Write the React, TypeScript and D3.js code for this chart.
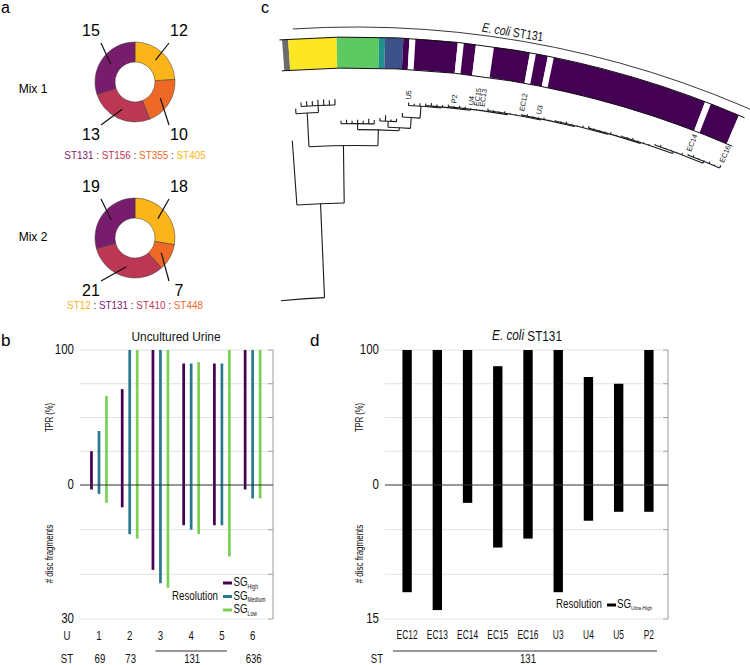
import * as d3 from "d3";
import type { ReactNode } from "react";

const SANS = "'Liberation Sans',Arial,sans-serif";

// ---------- panel a: strain mixes ----------
const MIX1_STS = ["ST405", "ST355", "ST156", "ST131"];
const MIX1_VALUES = [12, 10, 13, 15];
const MIX1_LEGEND = ["ST131", "ST156", "ST355", "ST405"];
const MIX2_STS = ["ST12", "ST448", "ST410", "ST131"];
const MIX2_VALUES = [18, 7, 21, 19];
const MIX2_LEGEND = ["ST12", "ST131", "ST410", "ST448"];
const ST_COLORS: Record<string, string> = {
  ST131: "#781c6d", ST156: "#bc3754", ST410: "#bc3754",
  ST355: "#ed6925", ST448: "#ed6925", ST405: "#fbb41a", ST12: "#fbb41a",
};

// ---------- panel b: uncultured urine ----------
const URINE_SAMPLES = ["1", "2", "3", "4", "5", "6"];
const URINE_ST = ["69", "73", "131", "131", "131", "636"];
const RES_LEVELS = ["High", "Medium", "Low"];
const RES_COLORS = ["#440154", "#2a788e", "#7ad151"];
const TPR_HIGH = [25, 71, 100, 90, 90, 100];
const TPR_MEDIUM = [40, 100, 100, 90, 90, 100];
const TPR_LOW = [66, 100, 100, 91, 100, 100];
const FRAG_HIGH = [1, 5, 19, 9, 9, 1];
const FRAG_MEDIUM = [2, 11, 22, 10, 9, 3];
const FRAG_LOW = [4, 12, 23, 11, 16, 3];

// ---------- panel d: E. coli ST131 isolates ----------
const ISOLATES = ["EC12", "EC13", "EC14", "EC15", "EC16", "U3", "U4", "U5", "P2"];
const ISOLATE_TPR = [100, 100, 100, 88, 100, 100, 80, 75, 100];
const ISOLATE_FRAG = [12, 14, 2, 7, 6, 12, 4, 3, 3];

// ---------- panel c: tree (branch lengths) ----------
const CLADE_COLORS: Record<string, string> = {
  out: "#6b6b6b", yellow: "#fde725", green: "#5ec962", teal: "#21918c", blue: "#3b528b", purple: "#440154",
};
const INTERNAL_LEN = { A: 95, B: 58, C: 34, C2: 7, D: 16, G: 6, E: 3, F: 6, H: 11 };
const OUTGROUP_TIP = 65;
const YELLOW_TIPS = [5, 4, 5, 5, 6, 6, 5, 6];
const GREEN_TIPS = [3, 4, 3, 4, 3, 5, 4];
const TEAL_BLUE_TIPS = [3, 6, 2, 3];
const TEAL_BLUE_CLADES = ["teal", "blue", "blue", "blue"];
const PURPLE_BASAL_TIP = 4;
const PURPLE_RUNG_STEPS = [12, 1, 1, 1, 1, 1, 1, 1, 2, 2];
const PURPLE_RUNG_TIPS = [
  [3, 2, 3], [2, 3, 2, 2], [2, 1, 2, 2, 1, 1, 1], [2, 1, 1, 2, 1, 1], [1, 2, 1, 1, 2, 1],
  [1, 1, 2, 1, 1, 2], [2, 1, 1, 1, 2, 1], [1, 1, 2, 1, 1, 1], [1, 2, 1, 1, 1, 2], [1, 2, 1, 1, 2, 1, 3],
];
const TIP_NAMES: Record<number, string> = {
  21: "U5", 29: "P2", 32: "U4", 33: "EC15", 34: "EC13", 41: "EC12", 44: "U3", 71: "EC14", 77: "EC16",
};

interface TNode { len: number; clade?: string; children?: TNode[] }

const tips = (lens: number[], clade: string): TNode[] => lens.map((len) => ({ len, clade }));

function buildLadder(k: number): TNode {
  const kids = tips(PURPLE_RUNG_TIPS[k], "purple");
  if (k + 1 < PURPLE_RUNG_STEPS.length) kids.push(buildLadder(k + 1));
  return { len: PURPLE_RUNG_STEPS[k], children: kids };
}

const TREE: TNode = {
  len: 0,
  children: [{
    len: INTERNAL_LEN.A,
    children: [
      { len: OUTGROUP_TIP, clade: "out" },
      {
        len: INTERNAL_LEN.B,
        children: [
          {
            len: INTERNAL_LEN.C,
            children: [
              { len: YELLOW_TIPS[0], clade: "yellow" },
              { len: INTERNAL_LEN.C2, children: tips(YELLOW_TIPS.slice(1), "yellow") },
            ],
          },
          {
            len: INTERNAL_LEN.D,
            children: [
              { len: INTERNAL_LEN.G, children: tips(GREEN_TIPS, "green") },
              {
                len: INTERNAL_LEN.E,
                children: [
                  { len: INTERNAL_LEN.F, children: TEAL_BLUE_TIPS.map((len, i) => ({ len, clade: TEAL_BLUE_CLADES[i] })) },
                  { len: INTERNAL_LEN.H, children: [{ len: PURPLE_BASAL_TIP, clade: "purple" }, buildLadder(0)] },
                ],
              },
            ],
          },
        ],
      },
    ],
  }],
};

// condensed text: the figure uses a narrow sans, faked by a horizontal squeeze
function NText({ x, y, sx = 0.8, rotate = 0, size, anchor = "middle", fill = "#111", children }: {
  x: number; y: number; sx?: number; rotate?: number; size: number; anchor?: string; fill?: string; children: ReactNode;
}) {
  return (
    <g transform={`translate(${x},${y}) rotate(${rotate}) scale(${sx},1)`}>
      <text textAnchor={anchor as any} dominantBaseline="middle" fontFamily={SANS} fontSize={size} fill={fill}>{children}</text>
    </g>
  );
}

// tree geometry (fan centred far below the panel)
const CX = 355, CY = 1017;
const ANGLE_START = -4.27, ANGLE_END = 23.42;
const ROOT_STUB_DEG = -5.9;
const BAND_IN = 949, BAND_OUT = 980, BRACKET_R = 990;

function polar(deg: number, r: number): [number, number] {
  const a = (deg * Math.PI) / 180;
  return [CX + r * Math.sin(a), CY - r * Math.cos(a)];
}

function Tree() {
  const root = d3.hierarchy<TNode>(TREE);
  d3.cluster<TNode>().size([ANGLE_END - ANGLE_START, 1]).separation(() => 1)(root);
  const dist = new Map<any, number>();
  root.eachBefore((n) => dist.set(n, (n.parent ? dist.get(n.parent)! : 0) + n.data.len));
  const maxD = d3.max(root.leaves(), (l) => dist.get(l)!)!;
  const r = d3.scaleLinear().domain([0, maxD]).range([720, 927]);
  const theta = (n: d3.HierarchyNode<TNode>) => ANGLE_START + (n as any).x;
  const rad = (deg: number) => (deg * Math.PI) / 180;

  const paths: string[] = [];
  root.each((n) => {
    const t = theta(n);
    if (n.parent) {
      const [x0, y0] = polar(t, r(dist.get(n.parent)!));
      const [x1, y1] = polar(t, r(dist.get(n)!));
      paths.push(`M${x0},${y0}L${x1},${y1}`);
    }
    if (n.children) {
      const angs = n.children.map(theta);
      let a0 = d3.min(angs)!;
      const a1 = d3.max(angs)!;
      if (!n.parent) a0 = Math.min(a0, ROOT_STUB_DEG);
      const p = d3.path();
      p.arc(CX, CY, r(dist.get(n)!), rad(a0) - Math.PI / 2, rad(a1) - Math.PI / 2);
      paths.push(p.toString());
    }
  });

  const leaves = root.leaves();
  const half = (ANGLE_END - ANGLE_START) / leaves.length / 2;
  // merge neighbouring leaves of one colour into a single band segment
  const runs: { fill: string; a0: number; a1: number }[] = [];
  leaves.forEach((l, i) => {
    const t = theta(l);
    const fill = TIP_NAMES[i] ? "#ffffff" : CLADE_COLORS[l.data.clade!];
    const last = runs[runs.length - 1];
    if (last && last.fill === fill) last.a1 = t + half;
    else runs.push({ fill, a0: t - half, a1: t + half });
  });
  const band = d3.arc<any>();
  const outline = (rr: number, a0: number, a1: number) => {
    const p = d3.path();
    p.arc(CX, CY, rr, rad(a0) - Math.PI / 2, rad(a1) - Math.PI / 2);
    return p.toString();
  };
  const [tx, ty] = polar(9.1, 993);

  return (
    <g>
      {runs.map((s, i) => (
        <path key={"b" + i} transform={`translate(${CX},${CY})`} fill={s.fill}
          d={band({ innerRadius: BAND_IN, outerRadius: BAND_OUT, startAngle: rad(s.a0), endAngle: rad(s.a1) })!} />
      ))}
      <path d={outline(BAND_OUT, ANGLE_START - 0.15, ANGLE_END)} fill="none" stroke="#111" strokeWidth={1} />
      <path d={outline(BAND_IN, ANGLE_START - 0.15, ANGLE_END)} fill="none" stroke="#111" strokeWidth={1} />
      <path d={outline(BRACKET_R, -3.6, 27)} fill="none" stroke="#222" strokeWidth={0.9} />
      <g transform={`translate(${tx},${ty}) rotate(9.1) scale(0.8,1)`}>
        <text textAnchor="middle" fontFamily={SANS} fontSize={13} fill="#111">
          <tspan fontStyle="italic">E. coli</tspan> ST131
        </text>
      </g>
      {paths.map((d, i) => (
        <path key={"t" + i} d={d} fill="none" stroke="#1a1a1a" strokeWidth={1.1} />
      ))}
      {leaves.map((l, i) => {
        if (!TIP_NAMES[i]) return null;
        const t = theta(l);
        const [x, y] = polar(t, r(dist.get(l)!) + 3);
        return (
          <text key={"n" + i} transform={`translate(${x},${y}) rotate(${t - 90})`} fontFamily={SANS}
            fontSize={7.2} fill="#111" dominantBaseline="middle">{TIP_NAMES[i]}</text>
        );
      })}
    </g>
  );
}

function Donut({ cx, cy, sts, values, title, titleY, legend, legendY }: {
  cx: number; cy: number; sts: string[]; values: number[]; title: string; titleY: number; legend: string[]; legendY: number;
}) {
  const pie = d3.pie<number>().sort(null)(values);
  const arc = d3.arc<d3.PieArcDatum<number>>().innerRadius(20).outerRadius(40);
  return (
    <g>
      <text x={33} y={titleY} textAnchor="middle" dominantBaseline="middle" fontFamily={SANS} fontSize={12}>{title}</text>
      {pie.map((p, i) => (
        <path key={i} transform={`translate(${cx},${cy})`} d={arc(p)!} fill={ST_COLORS[sts[i]]} stroke="#3a3a3a" strokeWidth={0.5} />
      ))}
      {pie.map((p, i) => {
        const mid = (p.startAngle + p.endAngle) / 2;
        const sx = Math.sin(mid) >= 0 ? 1 : -1;
        const sy = -Math.cos(mid) >= 0 ? 1 : -1;
        const lx = cx + sx * 44;
        const ly = cy + (sy > 0 ? 54 : -50);
        const [c0, c1] = arc.centroid(p);
        return (
          <g key={"l" + i}>
            <line x1={cx + c0} y1={cy + c1} x2={lx - sx * 10} y2={ly - sy * 11} stroke="#111" strokeWidth={1.2} />
            <text x={lx} y={ly} textAnchor="middle" dominantBaseline="middle" fontFamily={SANS} fontSize={16}>{values[i]}</text>
          </g>
        );
      })}
      <NText x={cx} y={legendY} size={11} sx={0.9}>
        {legend.map((s, i) => (
          <tspan key={s}>
            {i > 0 && <tspan fill="#333"> : </tspan>}
            <tspan fill={ST_COLORS[s]}>{s}</tspan>
          </tspan>
        ))}
      </NText>
    </g>
  );
}

interface PanelCfg {
  left: number; right: number; top: number; zero: number; bottom: number;
  fragMax: number; fragGrid: number[]; titleY: number; axisX: number;
}

function Frame({ c, tpr, frag }: { c: PanelCfg; tpr: d3.ScaleLinear<number, number>; frag: d3.ScaleLinear<number, number> }) {
  const gridY = [...[25, 50, 75, 100].map(tpr), ...c.fragGrid.map(frag), frag(c.fragMax)];
  return (
    <g>
      {gridY.map((y, i) => (
        <g key={i}>
          <line x1={c.left} x2={c.right - 6} y1={y} y2={y} stroke="#e2e2e2" strokeWidth={1} />
          <line x1={c.right - 5} x2={c.right} y1={y} y2={y} stroke="#9a9a9a" strokeWidth={1} />
        </g>
      ))}
      <line x1={c.right} x2={c.right} y1={c.top} y2={c.bottom} stroke="#9a9a9a" strokeWidth={1} />
      <NText x={c.left - 6} y={tpr(100)} size={14} sx={0.82} anchor="end">100</NText>
      <NText x={c.left - 6} y={tpr(0)} size={14} sx={0.82} anchor="end">0</NText>
      <NText x={c.left - 6} y={frag(c.fragMax)} size={14} sx={0.82} anchor="end">{c.fragMax}</NText>
      <NText x={c.axisX} y={(tpr(100) + tpr(0)) / 2} rotate={-90} size={10} sx={0.76}>TPR (%)</NText>
      <NText x={c.axisX} y={(frag(0) + frag(c.fragMax)) / 2 + 2} rotate={-90} size={10} sx={0.8}># disc fragments</NText>
    </g>
  );
}

function UrinePanel() {
  const c: PanelCfg = { left: 80, right: 273, top: 350, zero: 485, bottom: 619, fragMax: 30, fragGrid: [10, 20], titleY: 337, axisX: 50 };
  const tpr = d3.scaleLinear().domain([0, 100]).range([c.zero, c.top]);
  const frag = d3.scaleLinear().domain([0, c.fragMax]).range([c.zero, c.bottom]);
  const x = d3.scaleBand().domain(URINE_SAMPLES).range([83.6, 268]);
  const xs = d3.scaleBand().domain(RES_LEVELS).range([-11.25, 11.25]);
  const tprs = [TPR_HIGH, TPR_MEDIUM, TPR_LOW];
  const frags = [FRAG_HIGH, FRAG_MEDIUM, FRAG_LOW];
  const cx = (s: string) => x(s)! + x.bandwidth() / 2;
  const bw = 2.7;
  // ST groups from consecutive runs
  const runs: { st: string; from: number; to: number }[] = [];
  URINE_ST.forEach((st, i) => {
    const last = runs[runs.length - 1];
    if (last && last.st === st) last.to = i; else runs.push({ st, from: i, to: i });
  });
  return (
    <g>
      <Frame c={c} tpr={tpr} frag={frag} />
      <NText x={176} y={c.titleY} size={13.5} sx={0.88}>Uncultured Urine</NText>
      {RES_LEVELS.map((lev, k) =>
        URINE_SAMPLES.map((s, i) => (
          <rect key={lev + s} x={cx(s) + xs(lev)! + xs.bandwidth() / 2 - bw / 2} width={bw}
            y={tpr(tprs[k][i])} height={frag(frags[k][i]) - tpr(tprs[k][i])} fill={RES_COLORS[k]} />
        ))
      )}
      <line x1={c.left} x2={c.right} y1={c.zero} y2={c.zero} stroke="#333" strokeWidth={1} />
      <NText x={218} y={597} size={12.5} sx={0.78} anchor="end">Resolution</NText>
      {RES_LEVELS.map((lev, k) => (
        <g key={lev}>
          <line x1={223} x2={232} y1={583 + k * 13.5} y2={583 + k * 13.5} stroke={RES_COLORS[k]} strokeWidth={3} />
          <NText x={233.5} y={583 + k * 13.5} size={12.5} sx={0.78} anchor="start">
            SG<tspan fontSize={6.5} dy={3.5}>{lev}</tspan>
          </NText>
        </g>
      ))}
      <NText x={67} y={637} size={12}>U</NText>
      <NText x={67} y={660} size={12}>ST</NText>
      {URINE_SAMPLES.map((s) => (
        <NText key={s} x={cx(s)} y={637} size={12}>{s}</NText>
      ))}
      {runs.map((g) => {
        const a = cx(URINE_SAMPLES[g.from]), b = cx(URINE_SAMPLES[g.to]);
        return (
          <g key={g.st}>
            {g.to > g.from && <line x1={a - 5} x2={b + 5} y1={651} y2={651} stroke="#333" strokeWidth={1} />}
            <NText x={(a + b) / 2 + 1} y={660} size={12}>{g.st}</NText>
          </g>
        );
      })}
    </g>
  );
}

function IsolatePanel() {
  const c: PanelCfg = { left: 385, right: 668, top: 350, zero: 485, bottom: 619, fragMax: 15, fragGrid: [5, 10], titleY: 337, axisX: 360 };
  const tpr = d3.scaleLinear().domain([0, 100]).range([c.zero, c.top]);
  const frag = d3.scaleLinear().domain([0, c.fragMax]).range([c.zero, c.bottom]);
  const x = d3.scaleBand().domain(ISOLATES).range([392, 664]).paddingInner(0.69).paddingOuter(0.345);
  return (
    <g>
      <Frame c={c} tpr={tpr} frag={frag} />
      <NText x={527} y={c.titleY} size={14} sx={0.84}>
        <tspan fontStyle="italic">E. coli</tspan> ST131
      </NText>
      {ISOLATES.map((s, i) => (
        <rect key={s} x={x(s)!} width={x.bandwidth()} y={tpr(ISOLATE_TPR[i])}
          height={frag(ISOLATE_FRAG[i]) - tpr(ISOLATE_TPR[i])} fill="#000" />
      ))}
      <line x1={c.left} x2={c.right} y1={c.zero} y2={c.zero} stroke="#333" strokeWidth={1} />
      <NText x={602} y={605} size={12.5} sx={0.78} anchor="end">Resolution</NText>
      <line x1={607} x2={616} y1={605} y2={605} stroke="#000" strokeWidth={3} />
      <NText x={617} y={605} size={12.5} sx={0.78} anchor="start">
        SG<tspan fontSize={6} dy={3.5}>Ultra-High</tspan>
      </NText>
      {ISOLATES.map((s) => (
        <NText key={s} x={x(s)! + x.bandwidth() / 2} y={636} size={12} sx={0.7}>{s}</NText>
      ))}
      <line x1={393} x2={657} y1={651} y2={651} stroke="#333" strokeWidth={1} />
      <NText x={377} y={660} size={12}>ST</NText>
      <NText x={528} y={660} size={12}>131</NText>
    </g>
  );
}

export default function App() {
  return (
    <svg width={750} height={665} style={{ position: "absolute", left: 0, top: 0, background: "#fff" }}>
      <rect width={750} height={665} fill="#fff" />
      <text x={1} y={13} fontFamily={SANS} fontSize={16}>a</text>
      <text x={1} y={346} fontFamily={SANS} fontSize={17}>b</text>
      <text x={261} y={13} fontFamily={SANS} fontSize={16}>c</text>
      <text x={310} y={346} fontFamily={SANS} fontSize={17}>d</text>
      <Donut cx={135} cy={82} sts={MIX1_STS} values={MIX1_VALUES} title="Mix 1" titleY={90} legend={MIX1_LEGEND} legendY={156} />
      <Donut cx={135} cy={238} sts={MIX2_STS} values={MIX2_VALUES} title="Mix 2" titleY={238} legend={MIX2_LEGEND} legendY={306} />
      <Tree />
      <UrinePanel />
      <IsolatePanel />
    </svg>
  );
}
